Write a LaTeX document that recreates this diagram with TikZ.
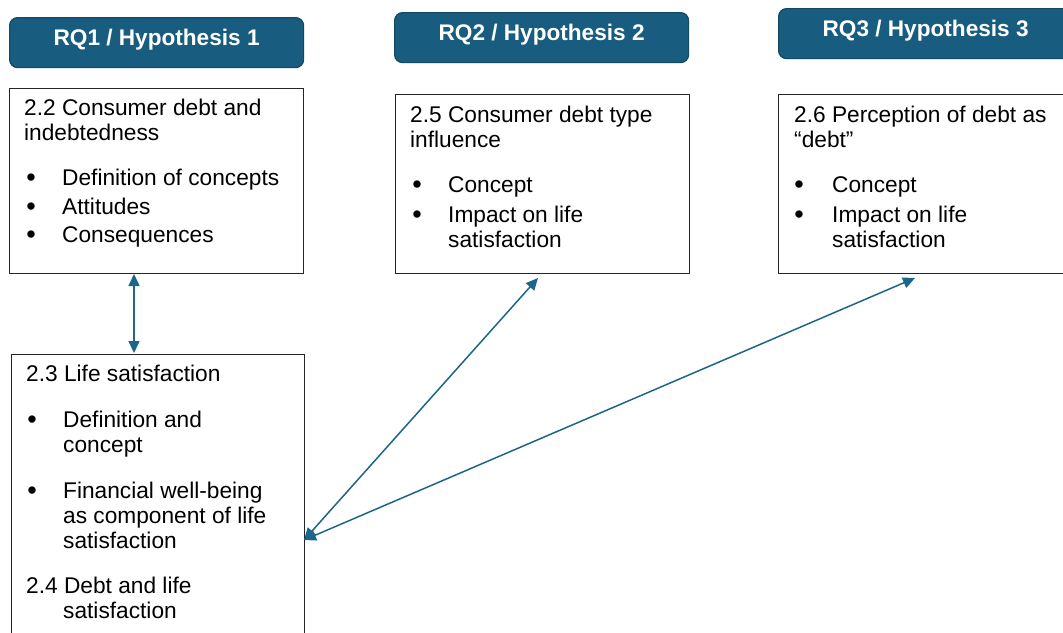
\documentclass[tikz,border=0pt]{standalone}
\usepackage{fontspec}
\setmainfont{Liberation Sans}
\usetikzlibrary{arrows.meta}
\definecolor{hdrblue}{HTML}{185C7F}
\definecolor{hdredge}{HTML}{124862}
\definecolor{linkblue}{HTML}{1C668A}
\tikzset{
  hdr/.style={draw=hdredge, line width=1.2pt, fill=hdrblue, rounded corners=8pt,
    minimum width=294pt, minimum height=50pt, anchor=north west, inner sep=0pt,
    text=white, font=\fontsize{22.6}{26}\selectfont\bfseries,
    text height=16.5pt, text depth=10.5pt},
  topicbox/.style={draw=black!85, line width=1.4pt, fill=white, anchor=north west,
    inner sep=0pt, minimum width=294pt},
  txt/.style={anchor=base west, inner sep=0pt, font=\fontsize{22.7}{26}\selectfont},
  dot/.style={anchor=base, inner sep=0pt, font=\fontsize{27}{26}\selectfont},
  link/.style={draw=linkblue, line width=1.5pt,
    {Triangle[length=12pt,width=11pt]}-{Triangle[length=12pt,width=11pt]}}
}
\begin{document}
\begin{tikzpicture}[x=1pt,y=-1pt]
\clip (0,0) rectangle (1063,632);
\fill[white] (0,0) rectangle (1063,632);

% research question headers
\node[hdr] (h1) at (9,17) {RQ1 / Hypothesis 1};
\node[hdr] (h2) at (394,12) {RQ2 / Hypothesis 2};
\node[hdr] (h3) at (778,8) {RQ3 / Hypothesis 3};

% topic boxes
\node[topicbox, minimum height=185pt] (b1) at (9,88) {};
\node[topicbox, minimum height=179pt] (b2) at (395,94) {};
\node[topicbox, minimum height=179pt] (b3) at (778,94) {};
\node[topicbox, minimum height=300pt, minimum width=293pt] (b4) at (11,354) {};

% 2.2
\node[txt] (b1l1) at (24,115) {2.2 Consumer debt and};
\node[txt] (b1l2) at (24,140) {indebtedness};
\node[dot] (b1d1) at (31,186) {•};
\node[txt] (b1i1) at (62,185) {Definition of concepts};
\node[dot] (b1d2) at (31,215) {•};
\node[txt] (b1i2) at (62,214) {Attitudes};
\node[dot] (b1d3) at (31,243) {•};
\node[txt] (b1i3) at (62,242) {Consequences};

% 2.5
\node[txt] (b2l1) at (410,122) {2.5 Consumer debt type};
\node[txt] (b2l2) at (410,147) {influence};
\node[dot] (b2d1) at (417,193) {•};
\node[txt] (b2i1) at (448,192) {Concept};
\node[dot] (b2d2) at (417,223) {•};
\node[txt] (b2i2) at (448,222) {Impact on life};
\node[txt] (b2i3) at (448,247) {satisfaction};

% 2.6
\node[txt] (b3l1) at (794,122) {2.6 Perception of debt as};
\node[txt] (b3l2) at (794,147) {“debt”};
\node[dot] (b3d1) at (799,193) {•};
\node[txt] (b3i1) at (832,192) {Concept};
\node[dot] (b3d2) at (799,223) {•};
\node[txt] (b3i2) at (832,222) {Impact on life};
\node[txt] (b3i3) at (832,247) {satisfaction};

% 2.3 and 2.4
\node[txt] (b4l1) at (26,381) {2.3 Life satisfaction};
\node[dot] (b4d1) at (32,428) {•};
\node[txt] (b4i1) at (63,427) {Definition and};
\node[txt] (b4i2) at (63,452) {concept};
\node[dot] (b4d2) at (32,499) {•};
\node[txt] (b4i3) at (63,498) {Financial well-being};
\node[txt] (b4i4) at (63,523) {as component of life};
\node[txt] (b4i5) at (63,548) {satisfaction};
\node[txt] (b4l2) at (26,593) {2.4 Debt and life};
\node[txt] (b4l3) at (63,618) {satisfaction};

% links between topics
\coordinate (p1) at (134,274);
\coordinate (p2) at (134,353);
\coordinate (q0) at (304,540);
\coordinate (q2) at (538,278);
\coordinate (q3) at (915,278);
\draw[link] (p1) -- (p2);
\draw[link] (q0) -- (q2);
\draw[link] (q0) -- (q3);
\end{tikzpicture}
\end{document}
